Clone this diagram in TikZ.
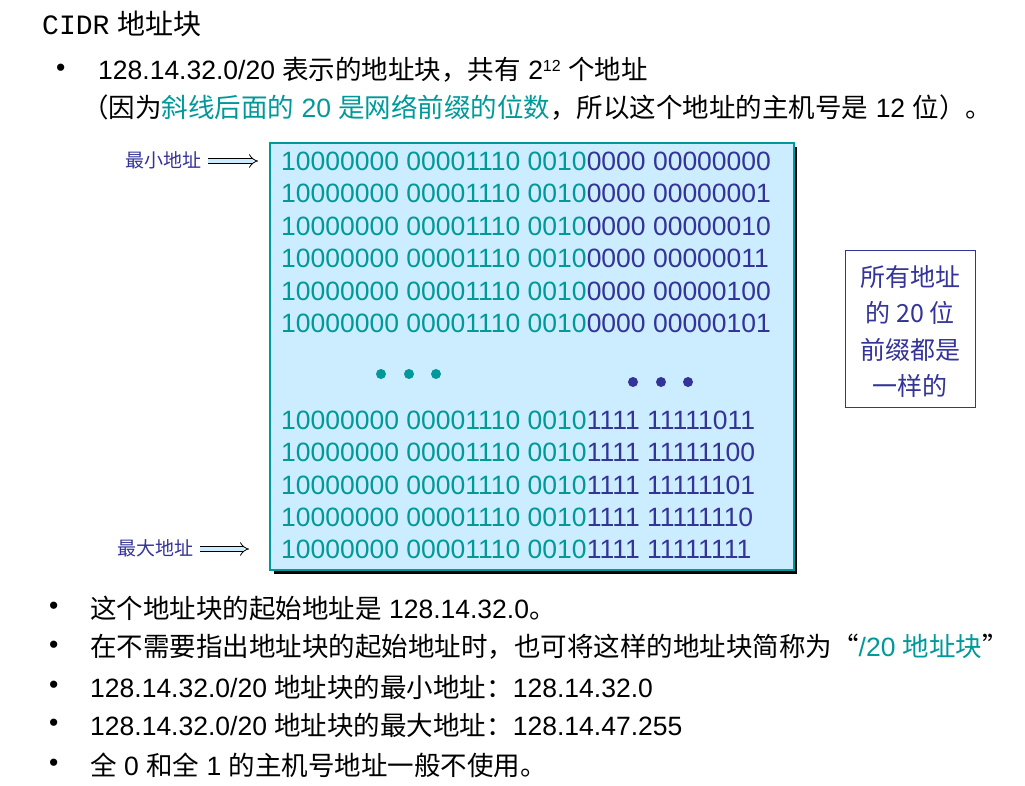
\documentclass[tikz,border=0pt]{standalone}
\usepackage{fontspec}
\setmainfont{Liberation Sans}
\newfontfamily\cjk{Noto Sans CJK SC}
\newfontfamily\cjkn{Noto Sans CJK SC}
\newfontfamily\ttl{Liberation Mono}
\usetikzlibrary{arrows.meta}
\definecolor{teal1}{HTML}{009999}
\definecolor{navy1}{HTML}{333399}
\definecolor{boxfill}{HTML}{CCECFF}
\tikzset{
  txt/.style={anchor=west,inner sep=0pt,font=\fontsize{26.5pt}{26.5pt}\selectfont},
  row/.style={anchor=west,inner sep=0pt,font=\fontsize{26.5pt}{26.5pt}\selectfont},
  lbl/.style={anchor=west,inner sep=0pt,text=navy1,font=\cjkn\fontsize{19pt}{19pt}\selectfont},
  ptr/.style={double=boxfill,double distance=4pt,draw=black,line width=0.8pt,-{Implies[length=6pt]}},
  dot/.style={circle,inner sep=0pt,minimum size=10pt},
  note/.style={anchor=center,text=navy1,font=\cjkn\fontsize{25pt}{25pt}\selectfont,inner sep=0pt},
}
\newcommand{\T}[1]{\textcolor{teal1}{#1}}
\newcommand{\N}[1]{\textcolor{navy1}{#1}}
\begin{document}
\begin{tikzpicture}[x=1pt,y=-1pt]
\useasboundingbox (0,0) rectangle (1025,786);
\node[anchor=west,inner sep=0pt,font=\fontsize{28pt}{28pt}\selectfont] (title) at (42,24) {{\ttl CIDR} {\cjkn 地址块}};
\node[txt] (b1) at (56,70) {•};
\node[txt] (t1) at (98,70) {128.14.32.0/20 {\cjk 表示的地址块，共有} 2\raisebox{0.6ex}{\fontsize{16pt}{16pt}\selectfont 12} {\cjk 个地址}};
\node[txt] (t2) at (82,108) {{\cjk （因为}\textcolor{teal1}{{\cjk 斜线后面的} 20 {\cjk 是网络前缀的位数}}{\cjk ，所以这个地址的主机号是} 12 {\cjk 位）。}};
% shadow + box
\fill[black] (274,147) rectangle (797,574);
\draw[teal1,line width=2.5pt,fill=boxfill] (270,143) rectangle (794,570);
\coordinate (minend) at (258,161);
\coordinate (maxend) at (249,549);
\foreach \y/\r in {161/0000 00000000,193/0000 00000001,226/0000 00000010,258/0000 00000011,291/0000 00000100,323/0000 00000101}{
  \node[row] at (281,\y) {\T{10000000 00001110 0010}\N{\r}};
}
\foreach \y/\r in {420/1111 11111011,452/1111 11111100,485/1111 11111101,517/1111 11111110,549/1111 11111111}{
  \node[row] at (281,\y) {\T{10000000 00001110 0010}\N{\r}};
}
\foreach \x in {381,409,436}{\node[dot,fill=teal1] at (\x,374) {};}
\foreach \x in {633,661,688}{\node[dot,fill=navy1] at (\x,382) {};}
% labels
\node[lbl] (min) at (125,160) {最小地址};
\node[lbl] (max) at (117,548) {最大地址};
\draw[ptr] (min.east) ++(7,1) -- (minend);
\draw[ptr] (max.east) ++(7,1) -- (maxend);
% side note
\node[draw=navy1,line width=0.8pt,minimum width=130pt,minimum height=157pt,inner sep=0pt] (note) at (910,328.5) {};
\node[note] at (910,277) {所有地址};
\node[note] at (910,313) {的\ 20\ 位};
\node[note] at (910,350) {前缀都是};
\node[note] at (910,386) {一样的};
% bottom bullets
\foreach \y in {608,647,687,725,765}{\node[txt] at (49,\y) {•};}
\node[txt] at (90,608) {{\cjk 这个地址块的起始地址是} 128.14.32.0{\cjk 。}};
\node[txt] at (90,647) {{\cjk 在不需要指出地址块的起始地址时，也可将这样的地址块简称为“}\textcolor{teal1}{/20 {\cjk 地址块}}{\cjk ”}};
\node[txt] at (90,687) {128.14.32.0/20 {\cjk 地址块的最小地址：}128.14.32.0};
\node[txt] at (90,725) {128.14.32.0/20 {\cjk 地址块的最大地址：}128.14.47.255};
\node[txt] at (90,765) {{\cjk 全} 0 {\cjk 和全} 1 {\cjk 的主机号地址一般不使用。}};
\end{tikzpicture}
\end{document}
